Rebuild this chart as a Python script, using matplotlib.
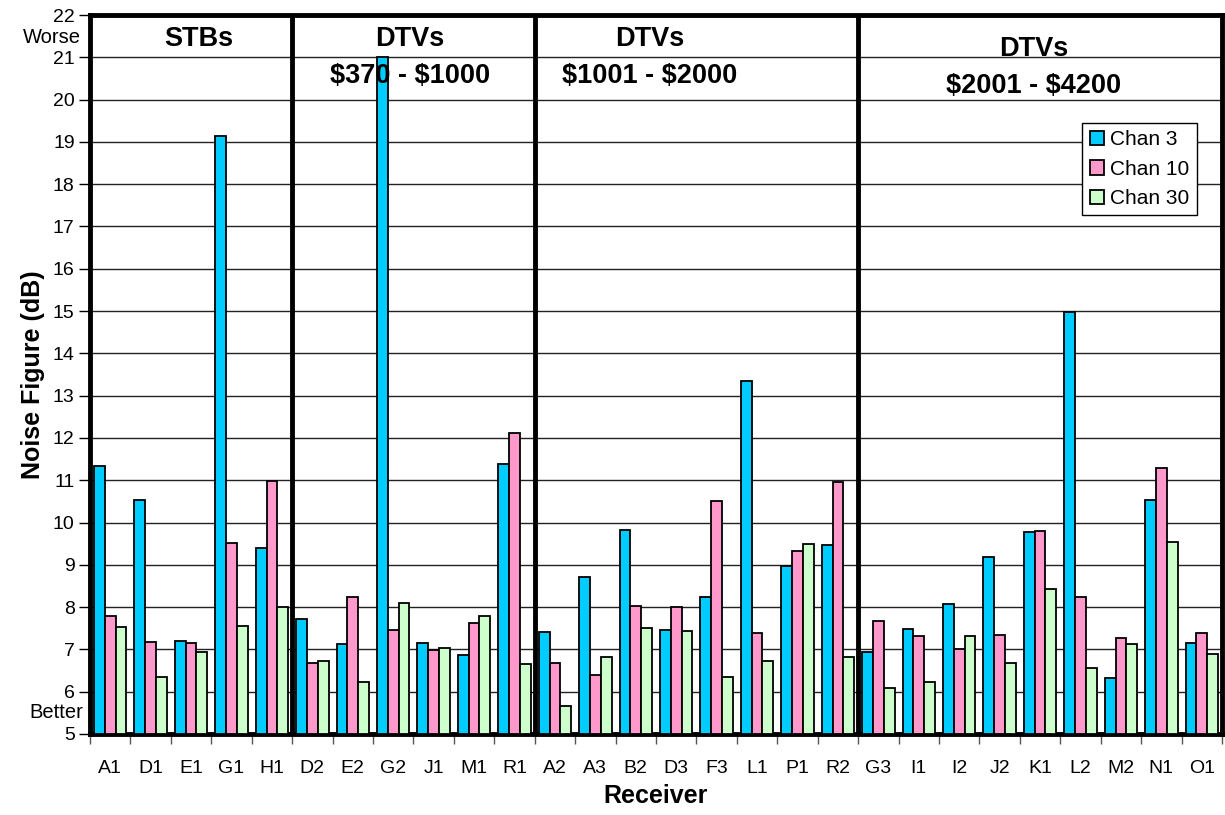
import numpy as np
import matplotlib.pyplot as plt

plt.rcParams['font.family'] = ['Liberation Sans', 'DejaVu Sans']

receivers = ["A1", "D1", "E1", "G1", "H1",
             "D2", "E2", "G2", "J1", "M1", "R1",
             "A2", "A3", "B2", "D3", "F3", "L1", "P1", "R2",
             "G3", "I1", "I2", "J2", "K1", "L2", "M2", "N1", "O1"]

chan3 = [11.33, 10.53, 7.21, 19.14, 9.40,
         7.72, 7.13, 21.0, 7.16, 6.86, 11.38,
         7.42, 8.71, 9.83, 7.45, 8.24, 13.35, 8.98, 9.46,
         6.94, 7.49, 8.07, 9.18, 9.77, 14.98, 6.32, 10.54, 7.15]
chan10 = [7.79, 7.17, 7.15, 9.51, 10.98,
          6.67, 8.24, 7.46, 6.98, 7.62, 12.11,
          6.68, 6.39, 8.02, 8.00, 10.51, 7.39, 9.32, 10.96,
          7.68, 7.31, 7.00, 7.34, 9.81, 8.25, 7.28, 11.30, 7.39]
chan30 = [7.53, 6.35, 6.95, 7.56, 8.00,
          6.72, 6.24, 8.09, 7.04, 7.78, 6.65,
          5.66, 6.83, 7.50, 7.44, 6.34, 6.72, 9.49, 6.83,
          6.08, 6.24, 7.31, 6.69, 8.42, 6.57, 7.13, 9.54, 6.89]

groups = ["STBs", "DTVs\n\\$370 - \\$1000", "DTVs\n\\$1001 - \\$2000", "DTVs\n\\$2001 - \\$4200"]
group_sizes = [5, 6, 8, 9]
# where the group titles sit (x in category units, top y in dB)
title_x = [2.2, 7.41, 13.35, 22.85]
title_y = [21.73, 21.73, 21.73, 21.5]

fig = plt.figure(figsize=(12.25, 8.15), dpi=100)
ax = fig.add_axes([90 / 1225, 1 - 734 / 815, 1132 / 1225, 719 / 815])

x = np.arange(len(receivers))
w = 0.267
base = 5
ax.bar(x - w, np.array(chan3) - base, w, bottom=base, color="#00CCFF", edgecolor="black", linewidth=1.3, label="Chan 3", zorder=3)
ax.bar(x, np.array(chan10) - base, w, bottom=base, color="#FF99CC", edgecolor="black", linewidth=1.3, label="Chan 10", zorder=3)
ax.bar(x + w, np.array(chan30) - base, w, bottom=base, color="#CCFFCC", edgecolor="black", linewidth=1.3, label="Chan 30", zorder=3)

ax.set_xlim(-0.5, len(receivers) - 0.5)
ax.set_ylim(5, 22)
ax.set_yticks(range(5, 23))
ax.yaxis.grid(True, color="#222222", linewidth=1, zorder=0)
ax.set_axisbelow(True)
ax.tick_params(axis="y", labelsize=14, length=8, width=1, pad=3)

ax.set_xticks(x)
ax.set_xticklabels(receivers, fontsize=14)
ax.set_xticks(np.arange(-0.5, len(receivers)), minor=True)
ax.tick_params(axis="x", which="major", length=0, pad=19)
ax.tick_params(axis="x", which="minor", length=7, width=1, color="#555555")

for s in ax.spines.values():
    s.set_linewidth(3.5)

# section dividers and titles
start = 0
for name, n, tx, ty in zip(groups, group_sizes, title_x, title_y):
    end = start + n
    if end < len(receivers):
        ax.axvline(end - 0.5, color="black", linewidth=3.5, zorder=4)
    ax.text(tx, ty, name, ha="center", va="top", fontsize=19.5, fontweight="bold",
            linespacing=1.55, zorder=5)
    start = end

ax.set_ylabel("Noise Figure (dB)", fontsize=18, fontweight="bold", labelpad=6)
ax.set_xlabel("Receiver", fontsize=18, fontweight="bold", labelpad=5)

ax.text(-0.008, 21.46, "Worse", transform=ax.get_yaxis_transform(), ha="right", va="center", fontsize=14.5)
ax.text(-0.006, 5.52, "Better", transform=ax.get_yaxis_transform(), ha="right", va="center", fontsize=14.5)

leg = ax.legend(loc="upper right", bbox_to_anchor=((1197 - 90) / 1132, (734 - 123) / 719), fontsize=15,
                frameon=True, fancybox=False, edgecolor="black", framealpha=1, handlelength=0.7,
                handleheight=0.7, handletextpad=0.3, borderpad=0.35, labelspacing=0.5,
                borderaxespad=0)
leg.get_frame().set_linewidth(1)

fig.savefig("out.png", dpi=100)
